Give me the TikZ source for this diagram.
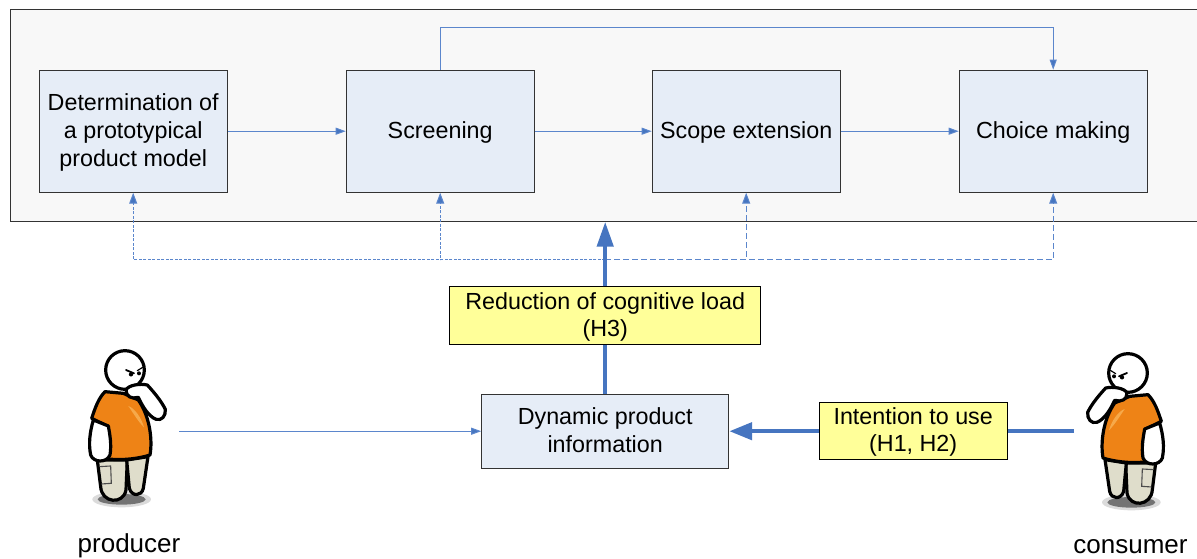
\documentclass[tikz,border=0pt]{standalone}
\usepackage{fontspec}
\setmainfont{Liberation Sans}
\usetikzlibrary{arrows.meta,calc}
\definecolor{linkblue}{HTML}{5B86CC}
\definecolor{heavyblue}{HTML}{4675C0}
\definecolor{boxblue}{HTML}{E6EDF7}
\definecolor{notey}{HTML}{FFFF99}
\definecolor{panel}{HTML}{F8F8F8}
\definecolor{shirt}{HTML}{EE8316}
\definecolor{shirtlight}{HTML}{F6A94A}
\definecolor{trousers}{HTML}{DFDDCB}
\tikzset{
  x=1pt,y=-1pt,
  stagebox/.style={draw=black!80,line width=1pt,fill=boxblue,minimum width=188pt,minimum height=122pt,align=center,font=\fontsize{23.3}{28}\selectfont,inner sep=0pt,text depth=2pt},
  notebox/.style={draw=black,line width=1pt,fill=notey,align=center,font=\fontsize{23.3}{27.5}\selectfont,inner sep=0pt,text depth=3pt},
  thinlink/.style={draw=linkblue,line width=1pt,-{Triangle[length=10pt,width=7pt,fill=heavyblue]}},
  dotlink/.style={draw=linkblue,line width=1pt,dash pattern=on 3pt off 1.5pt},
  dashlink/.style={draw=linkblue,line width=1pt,dash pattern=on 6pt off 3pt},
  dtip/.style={-{Triangle[length=11pt,width=8pt,fill=heavyblue]}},
  heavylink/.style={draw=heavyblue,line width=4.5pt},
  outl/.style={draw=black,line width=3.2pt,line join=round},
  personname/.style={font=\fontsize{26}{30}\selectfont,inner sep=0pt},
}
\newcommand{\thinker}{%
  \fill[black!14] (185,478) ellipse [x radius=88,y radius=24];
  \fill[black!55] (185,478) ellipse [x radius=72,y radius=16];
  % legs
  \filldraw[outl,fill=trousers] (112,360) -- (122,440) .. controls (125,490) and (190,495) .. (198,450) -- (202,360) -- cycle;
  \filldraw[outl,fill=trousers] (200,360) -- (208,445) .. controls (215,470) and (245,470) .. (250,445) -- (264,350) -- cycle;
  \draw[line width=1.1pt,draw=black!70] (118,380) -- (152,378) -- (154,430) -- (124,432);
  % shirt
  \filldraw[outl,fill=shirt] (135,155) .. controls (115,175) and (105,205) .. (95,235) -- (142,258) .. controls (145,290) and (142,330) .. (145,357) .. controls (190,362) and (240,355) .. (270,345) .. controls (278,300) and (270,230) .. (235,180) -- (190,160) -- cycle;
  \fill[shirtlight] (205,198) .. controls (225,205) and (245,235) .. (252,262) .. controls (235,245) and (220,220) .. (205,198) -- cycle;
  % left arm
  \filldraw[outl,fill=white] (100,240) .. controls (90,275) and (85,310) .. (92,345) .. controls (100,368) and (140,370) .. (150,345) .. controls (155,315) and (150,285) .. (145,258) -- cycle;
  % head
  \filldraw[outl,fill=white] (195,90) circle [radius=58];
  % right arm and hand
  \filldraw[outl,fill=white] (198,150) .. controls (205,135) and (240,130) .. (262,135) .. controls (285,160) and (305,185) .. (316,208) .. controls (318,228) and (305,243) .. (288,238) .. controls (265,228) and (248,200) .. (235,172) .. controls (215,178) and (198,170) .. (198,150) -- cycle;
  % face
  \draw[line width=1.8pt,line cap=round] (198,90) -- (222,100);
  \draw[line width=1.2pt,line cap=round] (232,92) -- (248,82);
  \fill (213,103) circle [radius=6.5];
  \fill (237,100) circle [radius=6];
}
\begin{document}
\begin{tikzpicture}
\useasboundingbox (0,0) rectangle (1197,558);
\fill[white] (0,0) rectangle (1197,558);
% panel
\node[draw=black!80,line width=1pt,fill=panel,minimum width=1200pt,minimum height=212pt,inner sep=0pt,anchor=north west] (stage) at (9.7,8.7) {};
% stages
\node[stagebox] (proto) at (133.2,131.2) {Determination of\\a prototypical\\product model};
\node[stagebox] (screen) at (440.2,131.2) {Screening};
\node[stagebox] (scope) at (746.2,131.2) {Scope extension};
\node[stagebox] (choice) at (1053.2,131.2) {Choice making};
% notes and info
\node[notebox,minimum width=311pt,minimum height=58pt] (load) at (605.2,315.8) {Reduction of cognitive load\\(H3)};
\node[stagebox,minimum width=247pt,minimum height=74pt] (dyn) at (605.2,431.2) {Dynamic product\\information};
\node[notebox,minimum width=188pt,minimum height=57pt] (intent) at (913.2,431.2) {Intention to use\\(H1, H2)};
% people
\begin{scope}[shift={(60,340)},x=0.3333pt,y=-0.3333pt]
  \thinker
\end{scope}
\begin{scope}[shift={(1193,343)},x=-0.3333pt,y=-0.3333pt]
  \thinker
\end{scope}
\node[personname] (producer) at (129,546) {producer};
\node[personname] (consumer) at (1130.5,547) {consumer};
\coordinate (prodout) at (179,431.2);
\coordinate (consout) at (1074,431.2);
\coordinate (hub) at (605.2,259.5);
% flow
\draw[thinlink] (proto) -- (screen);
\draw[thinlink] (screen) -- (scope);
\draw[thinlink] (scope) -- (choice);
\draw[thinlink] (screen.north) -- ++(0,-42) -| (choice.north);
% dashed feedback
\draw[dotlink,dtip] (hub) -| (proto.south);
\draw[dotlink,dtip] (hub) -| (screen.south);
\draw[dashlink,dtip] (hub) -| (scope.south);
\draw[dashlink,dtip] (hub) -| (choice.south);
% heavy
\draw[heavylink] (dyn.north) -- (load.south);
\draw[heavylink,-{Triangle[length=25pt,width=16pt]}] (load.north) -- (load.north |- stage.south);
\draw[heavylink] (consout) -- (intent.east);
\draw[heavylink,-{Triangle[length=23pt,width=17pt]}] (intent.west) -- (dyn.east);
\draw[thinlink] (prodout) -- (dyn.west);
\end{tikzpicture}
\end{document}
